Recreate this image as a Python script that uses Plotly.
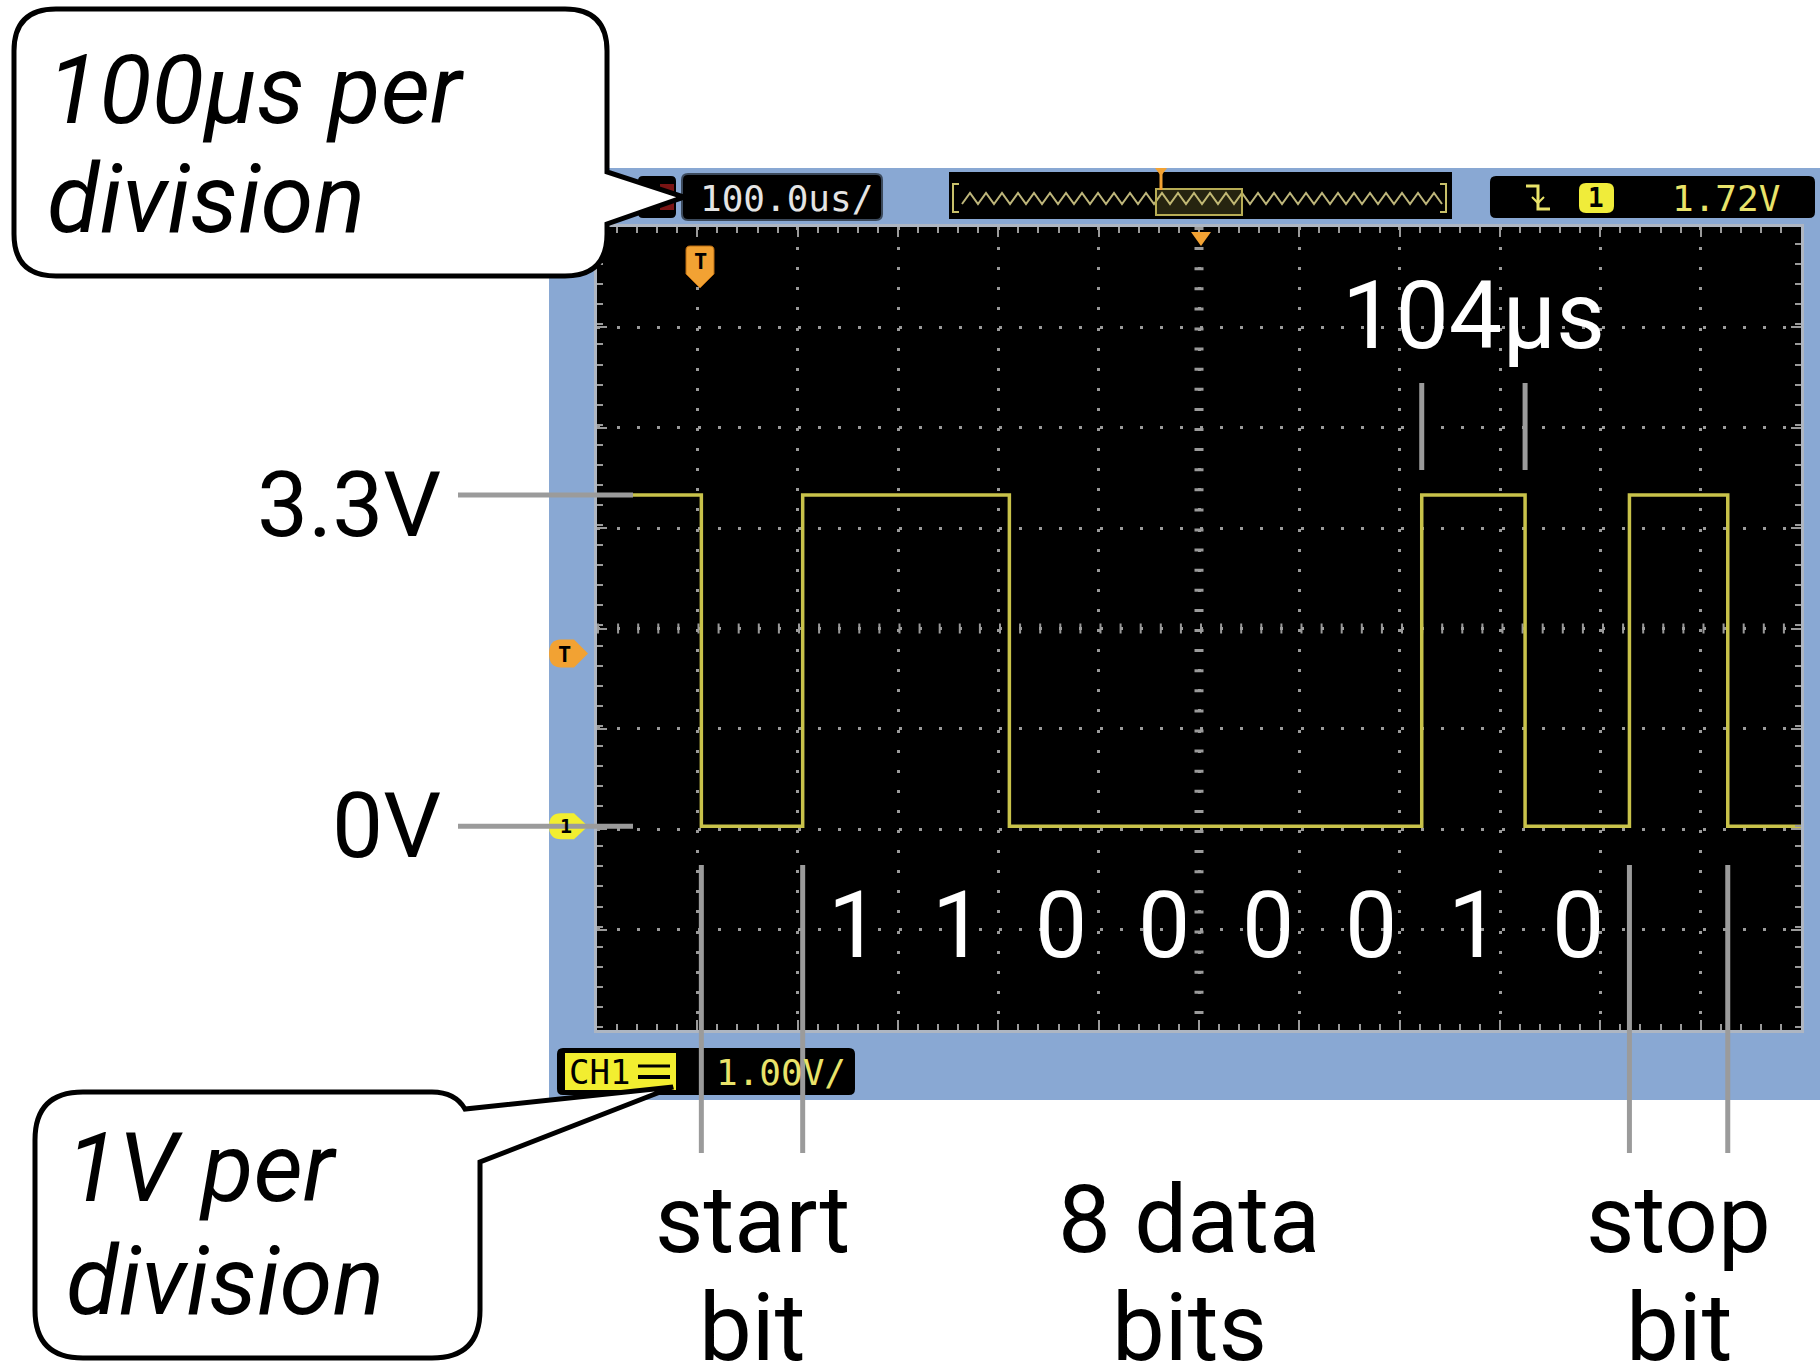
import plotly.graph_objects as go

W, H = 1820, 1367

# ---------------- data ----------------
edge_times_us = [-600, -496, -395, -189, 222, 325, 429, 527, 600]   # level changes (µs, trigger at centre)
edge_levels_v = [3.3, 0.0, 3.3, 0.0, 3.3, 0.0, 3.3, 0.0, 0.0]         # level held from each time on
data_bits = ["1", "1", "0", "0", "0", "0", "1", "0"]
level_labels = ["3.3V", "0V"]
level_values = [3.3, 0.0]
bit_period_label = "104µs"
frame_labels = [("start", "bit"), ("8 data", "bits"), ("stop", "bit")]
callout_labels = [("100µs per", "division"), ("1V per", "division")]
time_per_div_label = "100.0us/"
volts_per_div_label = "1.00V/"
trigger_level_label = "1.72V"
trigger_level_v = 1.72
channel_label = "CH1"

# ---------------- layout geometry (pixels) ----------------
SX0, SX1, SY0, SY1 = 597, 1801, 227, 1030
X_RANGE = [-600, 600]
Y_CENTER = 1.97
Y_RANGE = [Y_CENTER - 4, Y_CENTER + 4]
PX_PER_V = (SY1 - SY0) / 8.0

BEZEL = "#89a8d3"
TRACE = "#c8c24a"
UIYEL = "#e9e36a"
ORANGE = "#f2a233"
GRID = "#9a9a9a"
GRAYLINE = "#9b9b9b"


def X(px):
    return px / W


def Y(py):
    return 1 - py / H


def path(cmds):
    out = []
    for c in cmds:
        op, pts = c[0], c[1:]
        coords = [f"{X(pts[i]):.5f},{Y(pts[i + 1]):.5f}" for i in range(0, len(pts), 2)]
        out.append(op + " ".join(coords))
    return " ".join(out)


def rrect_cmds(x0, y0, x1, y1, r):
    return [("M", x0 + r, y0), ("L", x1 - r, y0), ("Q", x1, y0, x1, y0 + r),
            ("L", x1, y1 - r), ("Q", x1, y1, x1 - r, y1), ("L", x0 + r, y1),
            ("Q", x0, y1, x0, y1 - r), ("L", x0, y0 + r), ("Q", x0, y0, x0 + r, y0), ("Z",)]


shapes = []
annotations = []


def add_path(cmds, fill=None, color=None, width=0, layer="above"):
    shapes.append(dict(type="path", xref="paper", yref="paper", path=path(cmds),
                       fillcolor=fill if fill else "rgba(0,0,0,0)",
                       line=dict(color=color if color else "rgba(0,0,0,0)", width=width),
                       layer=layer))


def add_text(text, px, py, size, color, family="Roboto", xanchor="center", style="normal",
             weight="normal", xref="paper", xval=None):
    annotations.append(dict(
        text=text, showarrow=False, xref=xref, yref="paper",
        x=xval if xval is not None else X(px), y=Y(py),
        xanchor=xanchor, yanchor="middle",
        font=dict(family=family, size=size, color=color, style=style, weight=weight)))


# ---- scope bezel (blue) ----
add_path([("M", 549, 168), ("L", 1830, 168), ("L", 1830, 1100), ("L", 549, 1100), ("Z",)],
         fill=BEZEL, layer="below")
# black screen
shapes.append(dict(type="rect", xref="x domain", yref="y domain", x0=0, x1=1, y0=0, y1=1,
                   fillcolor="black", line=dict(width=0), layer="below"))

# centre lines with small tick dashes
shapes.append(dict(type="line", xref="x", yref="y", x0=X_RANGE[0], x1=X_RANGE[1],
                   y0=Y_CENTER, y1=Y_CENTER, layer="below",
                   line=dict(color=GRID, width=10, dash="2px,18.1px")))
shapes.append(dict(type="line", xref="x", yref="y", x0=0, x1=0,
                   y0=Y_RANGE[1], y1=Y_RANGE[0], layer="below",
                   line=dict(color=GRID, width=9, dash="3px,17.1px")))

# ---- top status bar ----
add_path(rrect_cmds(638, 176, 676, 218, 5), fill="black")
add_path([("M", 660, 184), ("L", 674, 184), ("L", 674, 210), ("L", 660, 210), ("Z",)], fill="#7a1414")
add_path(rrect_cmds(682, 174, 882, 220, 6), fill="black", color="#3c4a5c", width=2)
add_text(time_per_div_label, 786, 198, 36, "#e4e4e4", family="DejaVu Sans Mono")

add_path([("M", 949, 172), ("L", 1452, 172), ("L", 1452, 219), ("L", 949, 219), ("Z",)], fill="black")
# overview brackets
add_path([("M", 959, 184), ("L", 953, 184), ("L", 953, 212), ("L", 959, 212)], color="#c8c06a", width=2)
add_path([("M", 1440, 184), ("L", 1446, 184), ("L", 1446, 212), ("L", 1440, 212)], color="#c8c06a", width=2)
# overview zig-zag glyph (decoration)
zz = [("M", 962, 204)]
xz, up = 962, True
while xz < 1436:
    xz += 8
    zz.append(("L", xz, 193 if up else 204))
    up = not up
add_path(zz, color="#bdb57a", width=2)
add_path([("M", 1156, 189), ("L", 1242, 189), ("L", 1242, 215), ("L", 1156, 215), ("Z",)],
         fill="rgba(210,200,90,0.18)", color="#b8ad55", width=2)
add_path([("M", 1161, 170), ("L", 1161, 190)], color=ORANGE, width=3)
add_path([("M", 1155, 168), ("L", 1167, 168), ("L", 1161, 176), ("Z",)], fill=ORANGE)

add_path(rrect_cmds(1490, 176, 1815, 218, 6), fill="black")
add_path([("M", 1526, 186), ("L", 1538, 186), ("L", 1538, 209), ("L", 1550, 209)], color=UIYEL, width=3)
add_path([("M", 1532, 197), ("L", 1538, 203), ("L", 1544, 197)], color=UIYEL, width=2)
add_path(rrect_cmds(1579, 183, 1614, 213, 7), fill="#f0ec3a")
add_text("1", 1596, 198, 26, "black", family="DejaVu Sans Mono", weight="bold")
add_text(trigger_level_label, 1726, 198, 36, UIYEL, family="DejaVu Sans Mono")

# ---- bottom status bar ----
add_path(rrect_cmds(557, 1048, 855, 1095, 6), fill="black")
add_path([("M", 565, 1053), ("L", 676, 1053), ("L", 676, 1090), ("L", 565, 1090), ("Z",)], fill="#f2ee30")
add_text(channel_label, 599, 1072, 34, "black", family="DejaVu Sans Mono")
add_path([("M", 638, 1077), ("L", 670, 1077)], color="black", width=4)
add_path([("M", 638, 1066), ("L", 670, 1066)], color="black", width=3)
add_text(volts_per_div_label, 781, 1072, 36, UIYEL, family="DejaVu Sans Mono")

# ---- markers ----
# trigger position marker (top, inside screen)
add_path([("M", 686, 250), ("Q", 686, 246, 690, 246), ("L", 710, 246), ("Q", 714, 246, 714, 250),
          ("L", 714, 274), ("L", 700, 288), ("L", 686, 274), ("Z",)], fill=ORANGE, color="#b86a10", width=1)
add_text("T", 700, 262, 22, "black", family="DejaVu Sans Mono", weight="bold")
# centre-top small triangle
add_path([("M", 1191, 232), ("L", 1211, 232), ("L", 1201, 246), ("Z",)], fill=ORANGE)
# trigger level marker (left)
ty = SY0 + (Y_RANGE[1] - trigger_level_v) * PX_PER_V
add_path([("M", 561, ty - 14), ("L", 574, ty - 14), ("L", 588, ty), ("L", 574, ty + 14),
          ("L", 561, ty + 14), ("Q", 549, ty + 14, 549, ty), ("Q", 549, ty - 14, 561, ty - 14), ("Z",)],
         fill=ORANGE)
add_text("T", 564, ty + 1, 22, "black", family="DejaVu Sans Mono", weight="bold")
# channel ground marker (left)
gy = SY0 + (Y_RANGE[1] - 0.0) * PX_PER_V
add_path([("M", 561, gy - 13), ("L", 574, gy - 13), ("L", 588, gy), ("L", 574, gy + 13),
          ("L", 561, gy + 13), ("Q", 549, gy + 13, 549, gy), ("Q", 549, gy - 13, 561, gy - 13), ("Z",)],
         fill="#f2ee30")
add_text("1", 566, gy, 20, "black", family="DejaVu Sans Mono", weight="bold")

# ---- grey pointer lines ----
for v in level_values:
    shapes.append(dict(type="line", xref="paper", yref="y", x0=X(458), x1=X(633), y0=v, y1=v,
                       line=dict(color=GRAYLINE, width=5), layer="above"))
for t in (edge_times_us[4], edge_times_us[5]):
    shapes.append(dict(type="line", xref="x", yref="paper", x0=t, x1=t, y0=Y(383), y1=Y(470),
                       line=dict(color=GRAYLINE, width=5), layer="above"))
for t in (edge_times_us[1], edge_times_us[2], edge_times_us[6], edge_times_us[7]):
    shapes.append(dict(type="line", xref="x", yref="paper", x0=t, x1=t, y0=Y(865), y1=Y(1153),
                       line=dict(color=GRAYLINE, width=5), layer="above"))

# ---- callouts ----
c1 = [("M", 14 + 42, 9), ("L", 607 - 42, 9), ("Q", 607, 9, 607, 9 + 42), ("L", 607, 172),
      ("L", 684, 197), ("L", 607, 224), ("L", 607, 276 - 42), ("Q", 607, 276, 607 - 42, 276),
      ("L", 14 + 42, 276), ("Q", 14, 276, 14, 276 - 42), ("L", 14, 9 + 42), ("Q", 14, 9, 14 + 42, 9), ("Z",)]
add_path(c1, fill="white", color="black", width=5)
c2 = [("M", 35 + 48, 1092), ("L", 432, 1092), ("Q", 455, 1092, 465, 1109), ("L", 673, 1087),
      ("L", 480, 1162), ("L", 480, 1358 - 48), ("Q", 480, 1358, 480 - 48, 1358), ("L", 35 + 48, 1358),
      ("Q", 35, 1358, 35, 1358 - 48), ("L", 35, 1092 + 48), ("Q", 35, 1092, 35 + 48, 1092), ("Z",)]
add_path(c2, fill="white", color="black", width=5)

add_text(callout_labels[0][0], 45, 90, 96, "black", xanchor="left", style="italic")
add_text(callout_labels[0][1], 45, 199, 96, "black", xanchor="left", style="italic")
add_text(callout_labels[1][0], 64, 1168, 96, "black", xanchor="left", style="italic")
add_text(callout_labels[1][1], 64, 1281, 96, "black", xanchor="left", style="italic")

# ---- labels ----
add_text(level_labels[0], 443, 505, 91, "black", xanchor="right")
add_text(level_labels[1], 443, 826, 91, "black", xanchor="right")
add_text(bit_period_label, 0, 316, 95, "white", xref="x",
         xval=(edge_times_us[4] + edge_times_us[5]) / 2)

t_start, t_stop = edge_times_us[2], edge_times_us[6]
bw = (t_stop - t_start) / len(data_bits)
for i, b in enumerate(data_bits):
    add_text(b, 0, 925, 93, "white", xref="x", xval=t_start + bw * (i + 0.5))

xs_start = (edge_times_us[1] + edge_times_us[2]) / 2
xs_stop = (edge_times_us[6] + edge_times_us[7]) / 2
add_text(frame_labels[0][0], 0, 1220, 94, "black", xref="x", xval=xs_start)
add_text(frame_labels[0][1], 0, 1328, 94, "black", xref="x", xval=xs_start)
add_text(frame_labels[1][0], 1189, 1220, 94, "black")
add_text(frame_labels[1][1], 1189, 1328, 94, "black")
add_text(frame_labels[2][0], 0, 1220, 94, "black", xref="x", xval=xs_stop)
add_text(frame_labels[2][1], 0, 1328, 94, "black", xref="x", xval=xs_stop)

# ---------------- figure ----------------
fig = go.Figure()
fig.add_trace(go.Scatter(x=edge_times_us, y=edge_levels_v, mode="lines",
                         line=dict(shape="hv", color=TRACE, width=3.5),
                         hoverinfo="skip", showlegend=False))

axis_common = dict(showticklabels=False, zeroline=False, fixedrange=True,
                   showgrid=True, gridcolor=GRID, gridwidth=3, griddash="3px,17.1px",
                   showline=True, linecolor="#aeb6c2", linewidth=3, mirror="ticks",
                   ticks="inside", ticklen=10, tickcolor=GRID, tickwidth=2)

fig.update_layout(
    width=W, height=H, autosize=False,
    margin=dict(l=0, r=0, t=0, b=0, pad=0),
    paper_bgcolor="white", plot_bgcolor="black",
    showlegend=False,
    xaxis=dict(domain=[SX0 / W, SX1 / W], range=X_RANGE, tick0=0, dtick=100,
               minor=dict(ticks="inside", dtick=20, ticklen=6, tickcolor=GRID, tickwidth=2),
               **axis_common),
    yaxis=dict(domain=[1 - SY1 / H, 1 - SY0 / H], range=Y_RANGE, tick0=Y_CENTER, dtick=1,
               minor=dict(ticks="inside", dtick=0.2, ticklen=6, tickcolor=GRID, tickwidth=2),
               **axis_common),
    shapes=shapes,
    annotations=annotations,
)

fig.write_html("out.html", config={"displayModeBar": False},
               post_script="document.body.style.margin='0px';document.body.style.overflow='hidden';")
